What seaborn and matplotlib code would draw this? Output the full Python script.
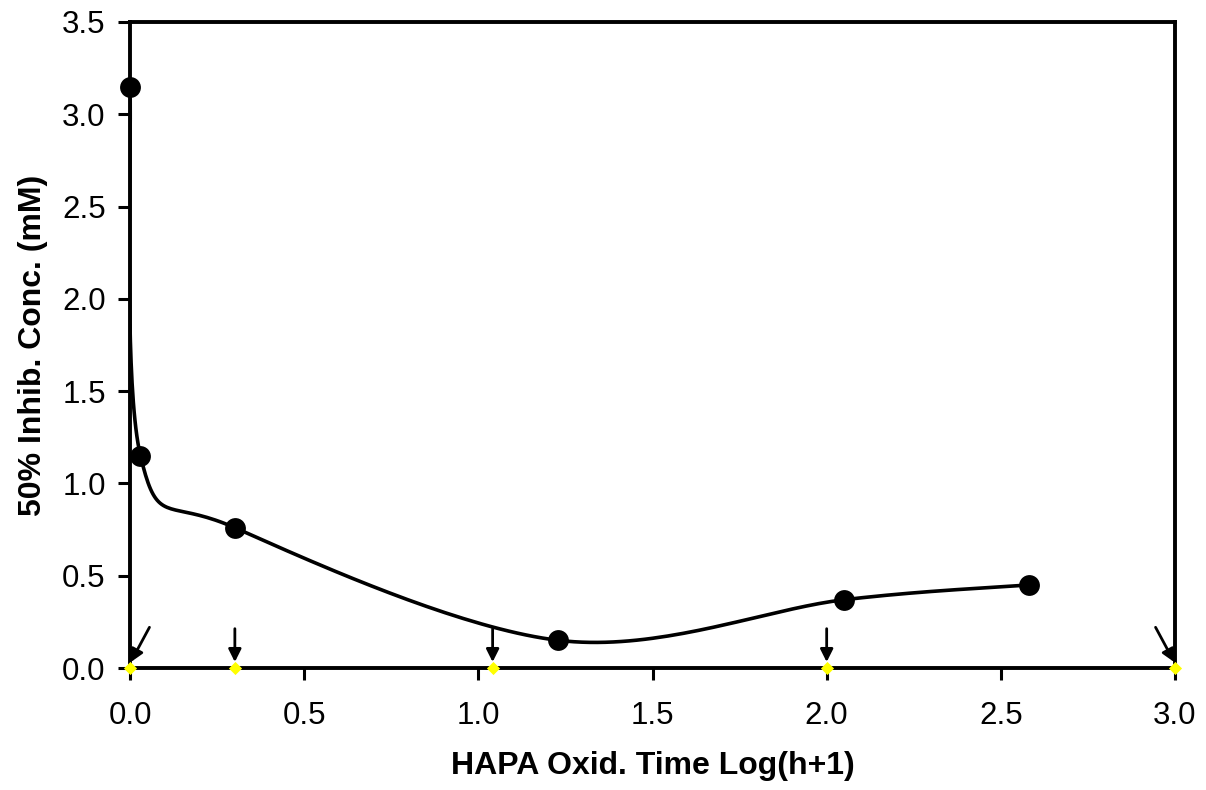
import numpy as np
import pandas as pd
import matplotlib
matplotlib.use("Agg")
import matplotlib.pyplot as plt
import seaborn as sns

# Measured points: oxidation time on a log(h+1) scale vs. 50% inhibitory concentration
log_time = [0.0, 0.03, 0.301, 1.23, 2.05, 2.58]
ic50_mM = [3.15, 1.15, 0.76, 0.15, 0.37, 0.45]

# Sampling times marked on the axis with arrows
marker_times = [0.0, 0.301, 1.041, 2.0, 3.0]

x_ticks = [0.0, 0.5, 1.0, 1.5, 2.0, 2.5, 3.0]
y_ticks = [0.0, 0.5, 1.0, 1.5, 2.0, 2.5, 3.0, 3.5]

sns.set_theme(style="white")
plt.rcParams["font.family"] = ["Liberation Sans", "DejaVu Sans"]

fig = plt.figure(figsize=(12.06, 7.90), dpi=100)
ax = fig.add_axes([0.1078, 0.1544, 0.8665, 0.8178])
ax.set_xlim(0, 3)
ax.set_ylim(0, 3.5)

# Smoothed connecting curve (cardinal Bezier spline computed in display space)
pts = ax.transData.transform(np.column_stack([log_time, ic50_mM]))
n = len(pts)
curve = []
t = np.linspace(0, 1, 40)
for i in range(n - 1):
    p0, p1 = pts[i], pts[i + 1]
    pm = pts[max(i - 1, 0)]
    pp = pts[min(i + 2, n - 1)]
    c1 = p0 + (p1 - pm) / 6.0
    c2 = p1 - (pp - p0) / 6.0
    seg = ((1 - t) ** 3)[:, None] * p0 + (3 * (1 - t) ** 2 * t)[:, None] * c1 \
        + (3 * (1 - t) * t ** 2)[:, None] * c2 + (t ** 3)[:, None] * p1
    curve.append(seg if i == 0 else seg[1:])
curve = ax.transData.inverted().transform(np.vstack(curve))
curve_df = pd.DataFrame({"x": curve[:, 0], "y": curve[:, 1]})
sns.lineplot(data=curve_df, x="x", y="y", sort=False, estimator=None,
             color="black", linewidth=2.6, ax=ax, zorder=3)

pts_df = pd.DataFrame({"x": log_time, "y": ic50_mM})
sns.scatterplot(data=pts_df, x="x", y="y", s=225, color="black",
                edgecolor="black", linewidth=0, ax=ax, zorder=4, clip_on=False)

# Arrows pointing at sampling times on the x axis
offsets = {0.0: (14, 26), 3.0: (-14, 26)}
for xv in marker_times:
    dx, dy = offsets.get(xv, (0, 25))
    ax.annotate("", xy=(xv, 0.025), xytext=(dx, dy), textcoords="offset points",
                xycoords="data", annotation_clip=False,
                arrowprops=dict(arrowstyle="-|>", color="black", lw=2.0,
                                mutation_scale=19, shrinkA=0, shrinkB=1))
mk_df = pd.DataFrame({"x": marker_times, "y": [0.0] * len(marker_times)})
sns.scatterplot(data=mk_df, x="x", y="y", marker="D", s=45, color="#ffff00",
                edgecolor="#ffff00", linewidth=0, ax=ax, zorder=6, clip_on=False)

for side in ["left", "right", "top", "bottom"]:
    ax.spines[side].set_visible(True)
    ax.spines[side].set_color("black")
    ax.spines[side].set_linewidth(2.8)

ax.set_xticks(x_ticks)
ax.set_yticks(y_ticks)
ax.set_xticklabels([f"{v:.1f}" for v in x_ticks])
ax.set_yticklabels([f"{v:.1f}" for v in y_ticks])
ax.tick_params(axis="both", which="major", direction="out", length=8.5,
               width=2.2, color="black", labelsize=22.5, labelcolor="black",
               bottom=True, left=True, top=False, right=False)
ax.tick_params(axis="y", pad=9)
ax.tick_params(axis="x", pad=15)

ax.set_xlabel("HAPA Oxid. Time Log(h+1)", fontsize=23, fontweight="bold",
              color="black", labelpad=15)
ax.set_ylabel("50% Inhib. Conc. (mM)", fontsize=23, fontweight="bold",
              color="black", labelpad=10)

fig.savefig("out.png", dpi=100)
